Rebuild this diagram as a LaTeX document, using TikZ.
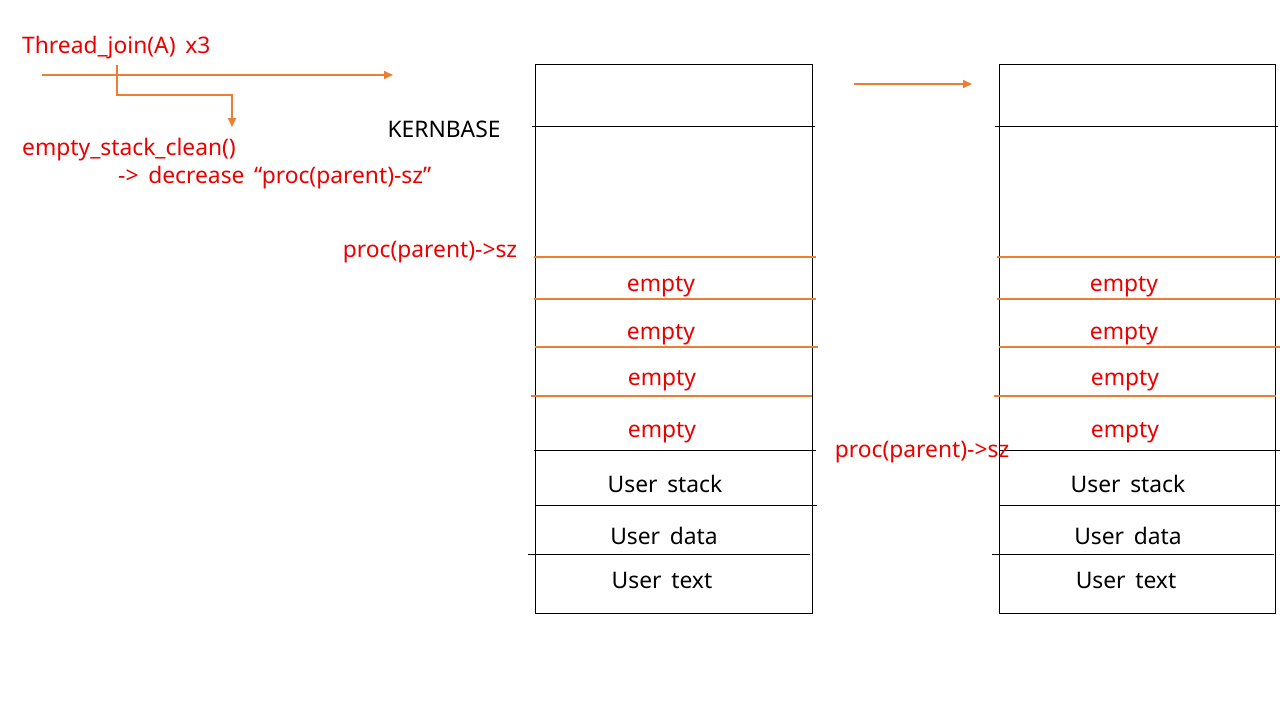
\documentclass[tikz,border=0pt]{standalone}
\usepackage{fontspec}
\setmainfont{Noto Sans}
\usetikzlibrary{arrows.meta}
\definecolor{txtred}{RGB}{235,0,0}
\definecolor{lineor}{RGB}{237,125,49}
\tikzset{
  redtxt/.style={text=txtred, font=\fontsize{22.8}{26}\selectfont, inner sep=0pt, yshift=-2pt},
  blktxt/.style={text=black, font=\fontsize{22.8}{26}\selectfont, inner sep=0pt, yshift=-2pt},
  blkline/.style={draw=black, line width=0.9pt},
  orline/.style={draw=lineor, line width=1.6pt},
  orarrow/.style={draw=lineor, line width=1.6pt, -{Triangle[length=9pt,width=8pt]}},
}
\begin{document}
\begin{tikzpicture}[x=1pt,y=-1pt]
\useasboundingbox (0,0) rectangle (1280,720);
% top-left
\node[redtxt, anchor=west] (tj) at (22,46) {Thread\_join(A)\, x3};
\coordinate (a1s) at (42,75);
\coordinate (a1e) at (393,75);
\draw[orarrow] (a1s) -- (a1e);
\coordinate (a2s) at (117,65);
\coordinate (a2e) at (232,127);
\draw[orarrow] (a2s) |- (174,95) -| (a2e);
\node[redtxt, anchor=west] (esc) at (22,148) {empty\_stack\_clean()};
\node[redtxt, anchor=west] (dec) at (118,176) {->\, decrease\, “proc(parent)-sz”};
% middle arrow
\coordinate (m1) at (854,84);
\coordinate (m2) at (972,84);
\draw[orarrow] (m1) -- (m2);
% box 1
\node[draw=black, line width=0.9pt, minimum width=277pt, minimum height=549pt, inner sep=0pt, anchor=north west] (b1) at (535,64) {};
\draw[blkline] (532,126) -- (815,126);
\draw[orline] (534,257) -- (816,257);
\draw[orline] (534,299) -- (816,299);
\draw[orline] (535,347) -- (818,347);
\draw[orline] (531,396) -- (812,396);
\draw[blkline] (534,450) -- (816,450);
\draw[blkline] (535,505) -- (817,505);
\draw[blkline] (528,554) -- (810,554);
\node[blktxt] (kb) at (444,127) {KERNBASE};
\node[redtxt] (ps1) at (430,250) {proc(parent)->sz};
\node[redtxt] (e11) at (661,285) {empty};
\node[redtxt] (e12) at (661,333) {empty};
\node[redtxt] (e13) at (662,379) {empty};
\node[redtxt] (e14) at (662,431) {empty};
\node[blktxt] (us1) at (665,482) {User\, stack};
\node[blktxt] (ud1) at (664,534) {User\, data};
\node[blktxt] (ut1) at (662,578) {User\, text};
% box 2
\node[draw=black, line width=0.9pt, minimum width=276pt, minimum height=549pt, inner sep=0pt, anchor=north west] (b2) at (999,64) {};
\draw[blkline] (995,126) -- (1278,126);
\draw[orline] (997,257) -- (1280,257);
\draw[orline] (997,299) -- (1280,299);
\draw[orline] (999,347) -- (1280,347);
\draw[orline] (994,396) -- (1276,396);
\draw[blkline] (999,450) -- (1280,450);
\draw[blkline] (999,505) -- (1280,505);
\draw[blkline] (992,554) -- (1274,554);
\node[redtxt] (ps2) at (922,450) {proc(parent)->sz};
\node[redtxt] (e21) at (1124,285) {empty};
\node[redtxt] (e22) at (1124,333) {empty};
\node[redtxt] (e23) at (1125,379) {empty};
\node[redtxt] (e24) at (1125,431) {empty};
\node[blktxt] (us2) at (1128,482) {User\, stack};
\node[blktxt] (ud2) at (1128,534) {User\, data};
\node[blktxt] (ut2) at (1126,578) {User\, text};
\end{tikzpicture}
\end{document}
